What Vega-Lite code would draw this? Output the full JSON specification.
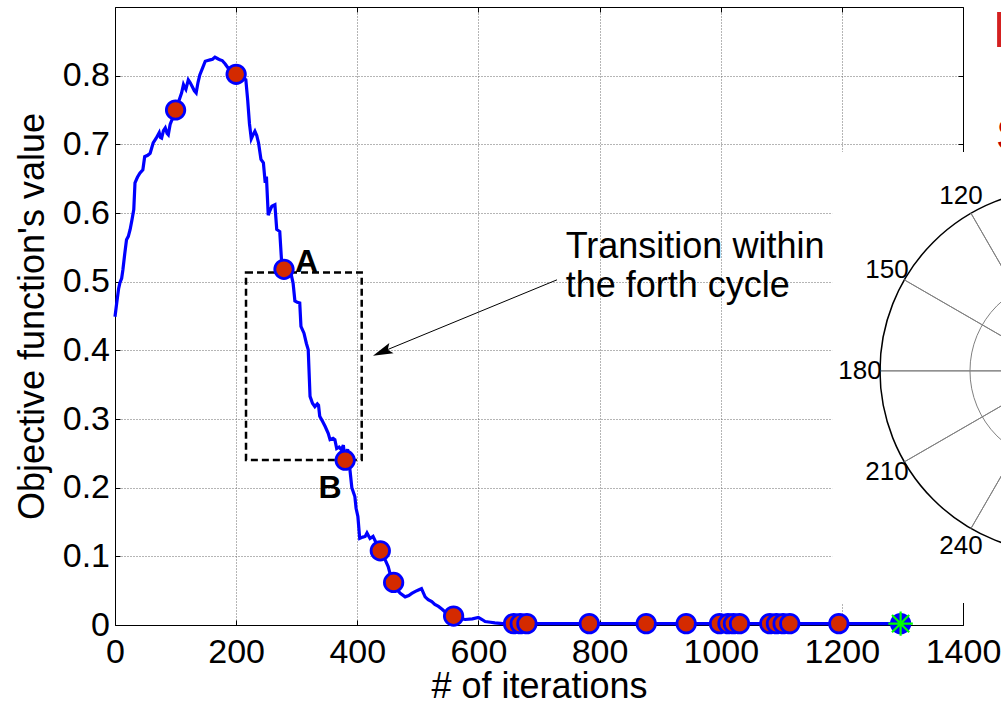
{
  "$schema": "https://vega.github.io/schema/vega-lite/v6.json",
  "width": 848,
  "height": 618,
  "autosize": {"type": "none"},
  "padding": {"left": 115, "top": 7, "right": 38, "bottom": 78},
  "background": "white",
  "config": {
    "view": {"stroke": null},
    "font": "Liberation Sans",
    "axis": {
      "labelFont": "Liberation Sans", "labelFontSize": 34, "labelColor": "black",
      "titleFont": "Liberation Sans", "titleFontSize": 36, "titleFontWeight": "normal", "titleColor": "black",
      "domainColor": "black", "domainWidth": 1, "tickColor": "black", "tickWidth": 1,
      "gridColor": "#6a6a6a", "gridDash": [1, 2], "gridWidth": 1, "gridOpacity": 1,
      "labelFlush": false, "labelOverlap": false
    }
  },
  "datasets": {
    "one": [{}],
    "curve": [
      {"iter":0,"value":0.449},{"iter":3,"value":0.47},{"iter":6,"value":0.49},{"iter":8,"value":0.498},{"iter":11,"value":0.505},{"iter":13,"value":0.517},{"iter":16,"value":0.54},{"iter":19,"value":0.561},{"iter":22,"value":0.566},{"iter":25,"value":0.576},{"iter":28,"value":0.59},{"iter":31,"value":0.605},{"iter":33,"value":0.644},{"iter":37,"value":0.652},{"iter":41,"value":0.658},{"iter":46,"value":0.663},{"iter":49,"value":0.682},{"iter":54,"value":0.684},{"iter":58,"value":0.687},{"iter":63,"value":0.702},{"iter":68,"value":0.709},{"iter":73,"value":0.717},{"iter":75,"value":0.71},{"iter":77,"value":0.709},{"iter":80,"value":0.72},{"iter":83,"value":0.724},{"iter":86,"value":0.716},{"iter":88,"value":0.714},{"iter":91,"value":0.729},{"iter":95,"value":0.738},{"iter":100,"value":0.75},{"iter":105,"value":0.762},{"iter":110,"value":0.775},{"iter":113,"value":0.787},{"iter":115,"value":0.783},{"iter":117,"value":0.78},{"iter":121,"value":0.794},{"iter":124,"value":0.79},{"iter":127,"value":0.785},{"iter":131,"value":0.778},{"iter":134,"value":0.775},{"iter":137,"value":0.79},{"iter":140,"value":0.801},{"iter":145,"value":0.812},{"iter":149,"value":0.821},{"iter":153,"value":0.822},{"iter":157,"value":0.823},{"iter":161,"value":0.824},{"iter":165,"value":0.827},{"iter":169,"value":0.825},{"iter":173,"value":0.823},{"iter":177,"value":0.822},{"iter":182,"value":0.817},{"iter":186,"value":0.812},{"iter":190,"value":0.808},{"iter":195,"value":0.804},{"iter":200,"value":0.802},{"iter":205,"value":0.801},{"iter":210,"value":0.797},{"iter":216,"value":0.794},{"iter":219,"value":0.765},{"iter":222,"value":0.73},{"iter":225,"value":0.708},{"iter":228,"value":0.714},{"iter":231,"value":0.719},{"iter":234,"value":0.713},{"iter":237,"value":0.702},{"iter":241,"value":0.678},{"iter":245,"value":0.673},{"iter":248,"value":0.644},{"iter":250,"value":0.653},{"iter":253,"value":0.597},{"iter":256,"value":0.604},{"iter":259,"value":0.61},{"iter":264,"value":0.612},{"iter":267,"value":0.576},{"iter":272,"value":0.573},{"iter":275,"value":0.53},{"iter":279,"value":0.518},{"iter":285,"value":0.515},{"iter":291,"value":0.51},{"iter":294,"value":0.498},{"iter":297,"value":0.472},{"iter":301,"value":0.47},{"iter":305,"value":0.469},{"iter":307,"value":0.435},{"iter":312,"value":0.425},{"iter":316,"value":0.41},{"iter":319,"value":0.401},{"iter":322,"value":0.333},{"iter":326,"value":0.323},{"iter":330,"value":0.318},{"iter":334,"value":0.322},{"iter":336,"value":0.32},{"iter":338,"value":0.304},{"iter":343,"value":0.296},{"iter":347,"value":0.289},{"iter":352,"value":0.279},{"iter":355,"value":0.27},{"iter":360,"value":0.272},{"iter":363,"value":0.27},{"iter":366,"value":0.257},{"iter":370,"value":0.259},{"iter":374,"value":0.255},{"iter":377,"value":0.262},{"iter":380,"value":0.24},{"iter":384,"value":0.256},{"iter":388,"value":0.225},{"iter":391,"value":0.2},{"iter":396,"value":0.187},{"iter":398,"value":0.17},{"iter":401,"value":0.158},{"iter":404,"value":0.126},{"iter":409,"value":0.128},{"iter":413,"value":0.129},{"iter":416,"value":0.134},{"iter":421,"value":0.126},{"iter":426,"value":0.129},{"iter":432,"value":0.118},{"iter":438,"value":0.108},{"iter":445,"value":0.097},{"iter":451,"value":0.085},{"iter":455,"value":0.072},{"iter":460,"value":0.062},{"iter":465,"value":0.052},{"iter":471,"value":0.046},{"iter":479,"value":0.041},{"iter":485,"value":0.043},{"iter":490,"value":0.046},{"iter":496,"value":0.049},{"iter":501,"value":0.051},{"iter":506,"value":0.053},{"iter":512,"value":0.041},{"iter":517,"value":0.037},{"iter":523,"value":0.034},{"iter":528,"value":0.03},{"iter":534,"value":0.027},{"iter":540,"value":0.023},{"iter":545,"value":0.019},{"iter":552,"value":0.016},{"iter":559,"value":0.013},{"iter":568,"value":0.01},{"iter":578,"value":0.008},{"iter":590,"value":0.009},{"iter":600,"value":0.011},{"iter":606,"value":0.008},{"iter":611,"value":0.005},{"iter":620,"value":0.004},{"iter":627,"value":0.003},{"iter":640,"value":0.002},{"iter":1300,"value":0.002}
    ],
    "markers": [
      {"iter":100,"value":0.75},{"iter":200,"value":0.802},{"iter":279,"value":0.518},{"iter":380,"value":0.24},{"iter":438,"value":0.108},{"iter":460,"value":0.062},{"iter":559,"value":0.013},
      {"iter":658,"value":0.002},{"iter":669,"value":0.002},{"iter":680,"value":0.002},{"iter":783,"value":0.002},{"iter":877,"value":0.002},{"iter":943,"value":0.002},
      {"iter":998,"value":0.002},{"iter":1012,"value":0.002},{"iter":1021,"value":0.002},{"iter":1031,"value":0.002},
      {"iter":1081,"value":0.002},{"iter":1092,"value":0.002},{"iter":1103,"value":0.002},{"iter":1114,"value":0.002},{"iter":1195,"value":0.002}
    ],
    "final": [{"iter":1297,"value":0.002}],
    "polar": [
      {"deg":120,"label":"120"},{"deg":150,"label":"150"},{"deg":180,"label":"180"},{"deg":210,"label":"210"},{"deg":240,"label":"240"}
    ],
    "notes": [
      {"x":744,"y":0.535,"label":"Transition within"},
      {"x":744,"y":0.478,"label":"the forth cycle"}
    ],
    "points": [
      {"x":297,"y":0.514,"label":"A"},
      {"x":336,"y":0.185,"label":"B"}
    ]
  },
  "resolve": {"axis": {"x": "independent", "y": "independent"}},
  "layer": [
    {
      "data": {"name": "one"},
      "mark": {"type": "rect", "fill": "white", "strokeWidth": 0},
      "encoding": {
        "x": {"datum": 1184, "type": "quantitative", "axis": {"orient": "top", "labels": false, "title": null, "grid": false, "values": [0,200,400,600,800,1000,1200,1400], "tickSize": -5}},
        "x2": {"datum": 1750},
        "y": {"datum": 0.032, "type": "quantitative", "axis": {"orient": "right", "labels": false, "title": null, "grid": false, "values": [0,0.1,0.2,0.3,0.4,0.5,0.6,0.7,0.8], "tickSize": -5}},
        "y2": {"datum": 0.689}
      }
    },
    {
      "data": {"name": "curve"},
      "mark": {"type": "line", "stroke": "#0000ff", "strokeWidth": 3.2},
      "encoding": {
        "x": {"field": "iter", "type": "quantitative", "scale": {"domain": [0, 1400], "nice": false, "zero": false},
              "axis": {"orient": "bottom", "title": "# of iterations", "format": "d", "values": [0,200,400,600,800,1000,1200,1400], "grid": true, "tickSize": -5, "labelPadding": 15, "titlePadding": 0}},
        "y": {"field": "value", "type": "quantitative", "scale": {"domain": [0, 0.9], "nice": false, "zero": false},
              "axis": {"orient": "left", "title": "Objective function's value", "values": [0,0.1,0.2,0.3,0.4,0.5,0.6,0.7,0.8], "format": "~g", "grid": true, "tickSize": -5, "labelPadding": 10.5, "titlePadding": 11}}
      }
    },
    {
      "data": {"name": "one"},
      "mark": {"type": "point", "shape": "circle", "size": 132496, "filled": true, "fill": "white", "stroke": "black", "strokeWidth": 1.5, "opacity": 1},
      "encoding": {
        "x": {"datum": 1563.4, "type": "quantitative", "axis": null},
        "y": {"datum": 0.3701, "type": "quantitative", "axis": null}
      }
    },
    {
      "data": {"name": "one"},
      "mark": {"type": "point", "shape": "circle", "size": 33856, "filled": false, "stroke": "#808080", "strokeWidth": 1, "opacity": 1},
      "encoding": {
        "x": {"datum": 1563.4, "type": "quantitative", "axis": null},
        "y": {"datum": 0.3701, "type": "quantitative", "axis": null}
      }
    },
    {
      "data": {"name": "polar"},
      "mark": {"type": "arc", "radius": 182, "radius2": 0, "stroke": "#808080", "strokeWidth": 1, "fillOpacity": 0},
      "encoding": {
        "x": {"datum": 1563.4, "type": "quantitative", "axis": null},
        "y": {"datum": 0.3701, "type": "quantitative", "axis": null},
        "theta": {"field": "deg", "type": "quantitative", "stack": null, "scale": {"domain": [0, 360], "range": [1.5708, -4.7124]}},
        "theta2": {"field": "deg"}
      }
    },
    {
      "data": {"name": "polar"},
      "mark": {"type": "text", "radius": 202, "fontSize": 26, "align": "center", "baseline": "middle", "font": "Liberation Sans", "color": "black"},
      "encoding": {
        "x": {"datum": 1563.4, "type": "quantitative", "axis": null},
        "y": {"datum": 0.3701, "type": "quantitative", "axis": null},
        "theta": {"field": "deg", "type": "quantitative", "scale": {"domain": [0, 360], "range": [1.5708, -4.7124]}},
        "text": {"field": "label"}
      }
    },
    {
      "data": {"name": "one"},
      "mark": {"type": "rect", "fillOpacity": 0, "stroke": "black", "strokeWidth": 2.5, "strokeDash": [7, 4]},
      "encoding": {
        "x": {"datum": 216.3, "type": "quantitative", "axis": null},
        "x2": {"datum": 407.3},
        "y": {"datum": 0.2404, "type": "quantitative", "axis": null},
        "y2": {"datum": 0.5134}
      }
    },
    {
      "data": {"name": "markers"},
      "mark": {"type": "point", "shape": "circle", "size": 340, "filled": true, "fill": "#d42a00", "stroke": "#0000ff", "strokeWidth": 2.8, "opacity": 1},
      "encoding": {
        "x": {"field": "iter", "type": "quantitative", "axis": null},
        "y": {"field": "value", "type": "quantitative", "axis": null}
      }
    },
    {
      "data": {"name": "final"},
      "mark": {"type": "point", "shape": "circle", "size": 340, "filled": true, "fill": "#0000ff", "stroke": "#0000ff", "strokeWidth": 2.8, "opacity": 1},
      "encoding": {
        "x": {"field": "iter", "type": "quantitative", "axis": null},
        "y": {"field": "value", "type": "quantitative", "axis": null}
      }
    },
    {
      "data": {"name": "final"},
      "mark": {"type": "point", "shape": "M-1,0L1,0M0,-1L0,1M-0.7,-0.7L0.7,0.7M-0.7,0.7L0.7,-0.7", "size": 600, "filled": false, "stroke": "#00ff00", "strokeWidth": 2.2, "opacity": 1},
      "encoding": {
        "x": {"field": "iter", "type": "quantitative", "axis": null},
        "y": {"field": "value", "type": "quantitative", "axis": null}
      }
    },
    {
      "data": {"name": "one"},
      "mark": {"type": "rule", "stroke": "black", "strokeWidth": 1},
      "encoding": {
        "x": {"datum": 729.7, "type": "quantitative", "axis": null},
        "y": {"datum": 0.5027, "type": "quantitative", "axis": null},
        "x2": {"datum": 436},
        "y2": {"datum": 0.396}
      }
    },
    {
      "data": {"name": "one"},
      "mark": {"type": "point", "shape": "M0,0L2,-0.55L1.6,0L2,0.55Z", "size": 400, "filled": true, "fill": "black", "strokeWidth": 0, "angle": -22.7, "opacity": 1},
      "encoding": {
        "x": {"datum": 425.9, "type": "quantitative", "axis": null},
        "y": {"datum": 0.392, "type": "quantitative", "axis": null}
      }
    },
    {
      "data": {"name": "notes"},
      "mark": {"type": "text", "fontSize": 36, "align": "left", "baseline": "alphabetic", "font": "Liberation Sans", "color": "black"},
      "encoding": {
        "x": {"field": "x", "type": "quantitative", "axis": null},
        "y": {"field": "y", "type": "quantitative", "axis": null},
        "text": {"field": "label"}
      }
    },
    {
      "data": {"name": "points"},
      "mark": {"type": "text", "fontSize": 32, "fontWeight": "bold", "align": "left", "baseline": "alphabetic", "font": "Liberation Sans", "color": "black"},
      "encoding": {
        "x": {"field": "x", "type": "quantitative", "axis": null},
        "y": {"field": "y", "type": "quantitative", "axis": null},
        "text": {"field": "label"}
      }
    },
    {
      "data": {"name": "one"},
      "mark": {"type": "text", "text": "P", "fontSize": 50, "align": "left", "baseline": "alphabetic", "font": "Liberation Sans", "color": "#d42020"},
      "encoding": {
        "x": {"datum": 1449.5, "type": "quantitative", "axis": null},
        "y": {"datum": 0.8423, "type": "quantitative", "axis": null}
      }
    },
    {
      "data": {"name": "one"},
      "mark": {"type": "text", "text": "S", "fontSize": 44, "align": "left", "baseline": "alphabetic", "font": "Liberation Sans", "color": "#c00000"},
      "encoding": {
        "x": {"datum": 1454.5, "type": "quantitative", "axis": null},
        "y": {"datum": 0.692, "type": "quantitative", "axis": null}
      }
    }
  ]
}
